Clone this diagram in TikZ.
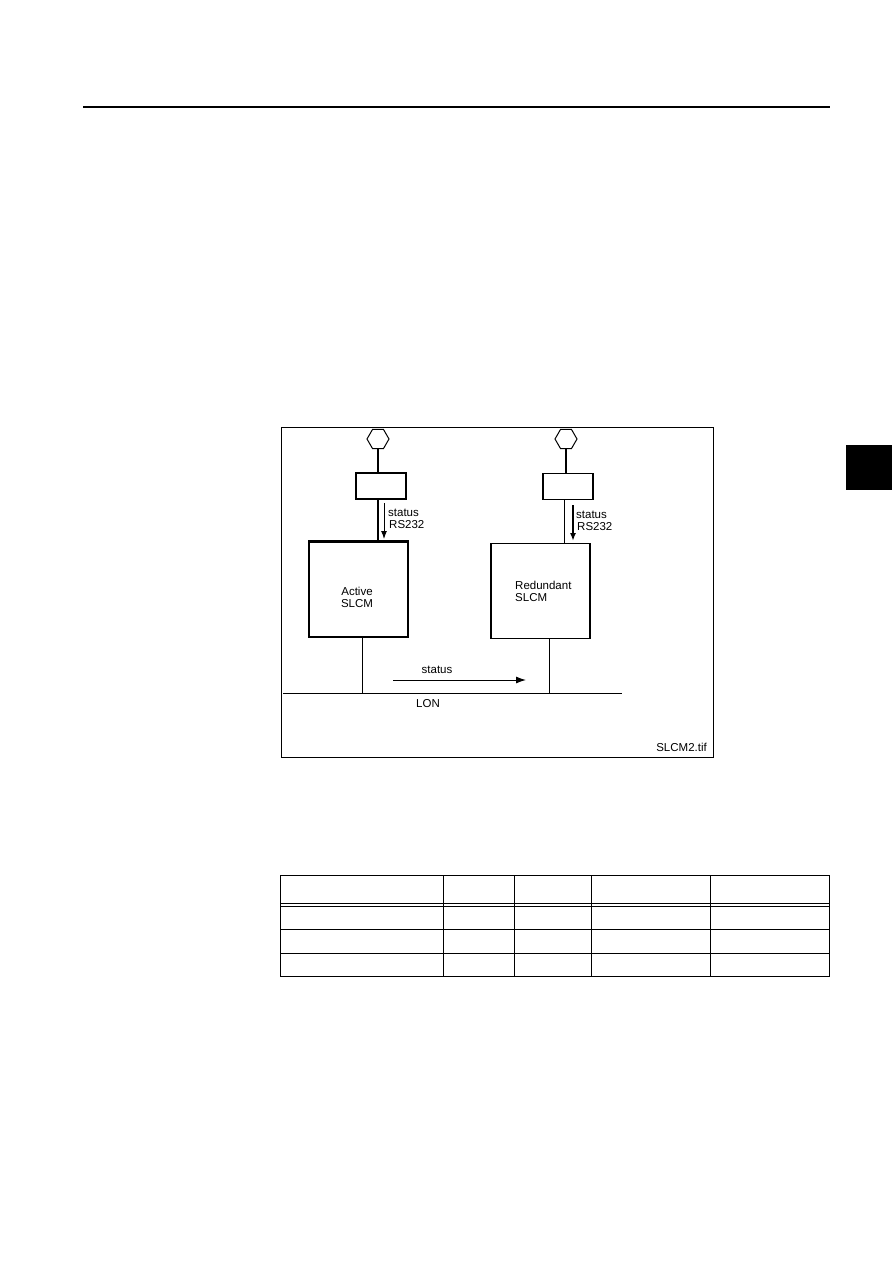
\documentclass[tikz,border=0pt]{standalone}
\usepackage{fontspec}
\setmainfont{Liberation Sans}
\usetikzlibrary{shapes.geometric,arrows.meta}
\begin{document}
\begin{tikzpicture}[x=1pt,y=-1pt,
  thinln/.style={line width=1pt},
  thickln/.style={line width=2pt},
  lbl/.style={font=\fontsize{11.5}{12}\selectfont, inner sep=0pt, align=left},
  hexa/.style={regular polygon, regular polygon sides=6, draw, line width=1pt, minimum size=22pt, inner sep=0pt},
  smallbox/.style={draw, line width=1.3pt, minimum width=50pt, minimum height=26pt, inner sep=0pt},
  mainbox/.style={draw, line width=1.3pt, minimum width=99pt, minimum height=95pt, inner sep=0pt},
  arr/.style={-{Latex[length=8pt,width=6pt]}},
  bigarr/.style={-{Latex[length=10pt,width=7pt]}}
]
\path[use as bounding box] (0,0) rectangle (893,1263);
% page decorations
\coordinate (ruleL) at (83,107);
\coordinate (ruleR) at (830,107);
\draw[line width=1.3pt] (ruleL) -- (ruleR);
\node[fill=black, minimum width=46pt, minimum height=45pt, inner sep=0pt] (tab) at (869,467) {};
% frame
\node[draw, line width=1pt, minimum width=432pt, minimum height=330pt, inner sep=0pt] (frame) at (497,592) {};
% hexagons
\node[hexa] (hexL) at (378,439) {};
\node[hexa] (hexR) at (566,439) {};
% small boxes
\node[smallbox] (sboxL) at (381,486) {};
\node[smallbox] (sboxR) at (568,486.5) {};
% main boxes
\node[mainbox] (mboxL) at (358.5,589.5) {};
\node[mainbox, line width=1.8pt] (mboxR) at (540.5,591) {};
\draw[line width=2.4pt] (mboxL.north west) -- (mboxL.north east);
% connections
\draw[thickln] (hexL.south) -- (hexL.south |- sboxL.north);
\draw[thickln] (hexR.south) -- (hexR.south |- sboxR.north);
\draw[thickln] (hexL.south |- sboxL.south) -- (hexL.south |- mboxL.north);
\draw[thinln] (564,499) coordinate (cR) -- (cR |- mboxR.north);
% status arrows
\coordinate (aL1) at (384,503); \coordinate (aL2) at (384,539);
\draw[line width=1pt, arr] (aL1) -- (aL2);
\coordinate (aR1) at (573,505); \coordinate (aR2) at (573,541);
\draw[line width=2pt, arr] (aR1) -- (aR2);
\node[lbl, anchor=north west] (tL) at (388,509) {status\\\hspace*{1pt}RS232};
\node[lbl, anchor=north west] (tR) at (576,511) {status\\\hspace*{1pt}RS232};
% box labels
\node[lbl, align=center] (lblA) at (357,597) {Active\\SLCM};
\node[lbl, anchor=north west] (lblR) at (515,581) {Redundant\\SLCM};
% LON bus
\coordinate (lonL) at (283,693);
\coordinate (lonR) at (622,693);
\draw[thinln] (lonL) -- (lonR);
\draw[thinln] (362,637) coordinate (dL) -- (dL |- lonL);
\draw[thinln] (549,638) coordinate (dR) -- (dR |- lonL);
\node[lbl] (lon) at (428,704) {LON};
\coordinate (sA) at (393,680); \coordinate (sB) at (526,680);
\draw[line width=1pt, bigarr] (sA) -- (sB);
\node[lbl] (st) at (437,670) {status};
\node[lbl, anchor=south east] (fname) at (707,752) {SLCM2.tif};
% table
\draw[line width=1pt] (280,875) rectangle (829,976);
\foreach \yy in {903,906.5,929,953} \draw[line width=1pt] (280,\yy) -- (829,\yy);
\foreach \xx in {443,514,591,710} \draw[line width=1pt] (\xx,875) -- (\xx,976);
\end{tikzpicture}
\end{document}
